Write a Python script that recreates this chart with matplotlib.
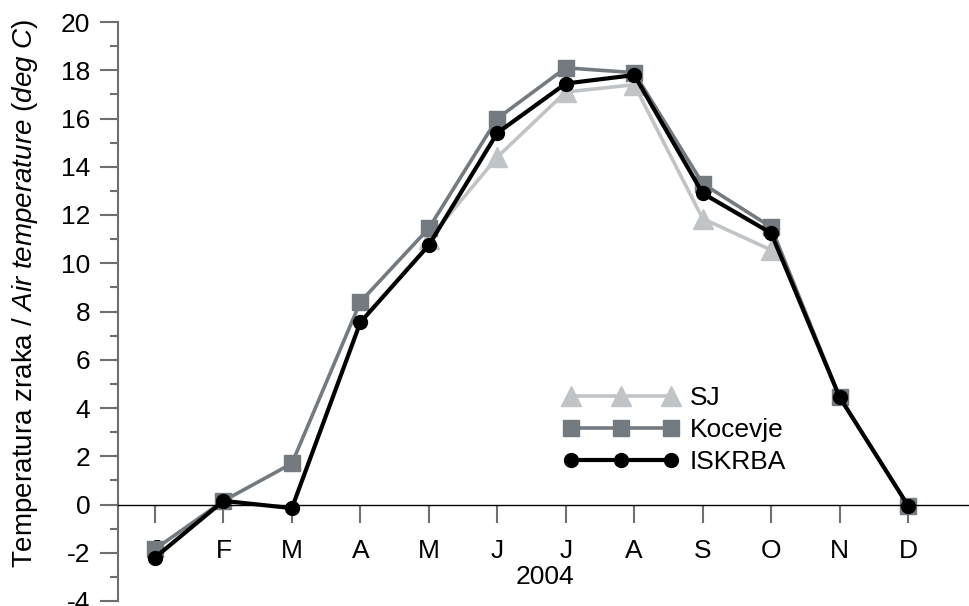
import numpy as np
import matplotlib
matplotlib.use('Agg')
import matplotlib.pyplot as plt

plt.rcParams['font.family'] = 'Liberation Sans'
plt.rcParams['axes.unicode_minus'] = False
plt.rcParams['mathtext.fontset'] = 'custom'
plt.rcParams['mathtext.rm'] = 'Liberation Sans'
plt.rcParams['mathtext.it'] = 'Liberation Sans:italic'

months = ['J', 'F', 'M', 'A', 'M', 'J', 'J', 'A', 'S', 'O', 'N', 'D']
sj = [np.nan, np.nan, np.nan, np.nan, 11.0, 14.4, 17.1, 17.4, 11.85, 10.55, np.nan, np.nan]
kocevje = [-1.85, 0.15, 1.7, 8.4, 11.45, 16.0, 18.1, 17.9, 13.3, 11.5, 4.45, -0.05]
iskrba = [-2.2, 0.15, -0.15, 7.55, 10.75, 15.4, 17.45, 17.8, 12.9, 11.25, 4.45, -0.05]

x = np.arange(len(months))

fig = plt.figure(figsize=(9.69, 6.06), dpi=100)
ax = fig.add_axes([118/969, 5/606, 851/969, 579/606])

ax.plot(x, sj, color='#c1c4c6', lw=2.6, marker='^', ms=15, label='SJ', clip_on=False)
ax.plot(x, kocevje, color='#737a80', lw=2.6, marker='s', ms=12, label='Kocevje', clip_on=False)
ax.plot(x, iskrba, color='black', lw=3.0, marker='o', ms=10, label='ISKRBA', clip_on=False)

ax.set_xlim(-0.54, 11.89)
ax.set_ylim(-4, 20)

for s in ['top', 'right']:
    ax.spines[s].set_visible(False)
ax.spines['bottom'].set_position(('data', 0))
ax.spines['bottom'].set_color('black')
ax.spines['bottom'].set_linewidth(1.0)
ax.spines['left'].set_color('#6f6f6f')
ax.spines['left'].set_linewidth(1.5)

ax.set_xticks(x)
ax.set_xticklabels(months)
ax.set_yticks(np.arange(-4, 21, 2))
ax.set_yticks(np.arange(-3, 20, 2), minor=True)
ax.tick_params(axis='x', direction='out', length=13, width=1.5, color='#6f6f6f', pad=12, labelsize=19)
ax.tick_params(axis='y', which='major', direction='out', length=13, width=1.5, color='#6f6f6f', pad=7, labelsize=19)
ax.tick_params(axis='y', which='minor', direction='out', length=6, width=1.5, color='#6f6f6f')

fig.text(545/969, 1 - 577/606, '2004', ha='center', va='center', fontsize=19)
fig.text(25/969, 1 - 293/606, r'Temperatura zraka / $\mathit{Air\ temperature\ (deg\ C)}$',
         rotation=90, ha='center', va='center', fontsize=20)

leg = ax.legend(loc='center left', bbox_to_anchor=(563/969, 1 - 430/606), bbox_transform=fig.transFigure,
                frameon=False, numpoints=3, handlelength=4.4, handletextpad=0.4,
                labelspacing=0.3, borderpad=0, borderaxespad=0, fontsize=19)

fig.savefig('out.png', dpi=100)
